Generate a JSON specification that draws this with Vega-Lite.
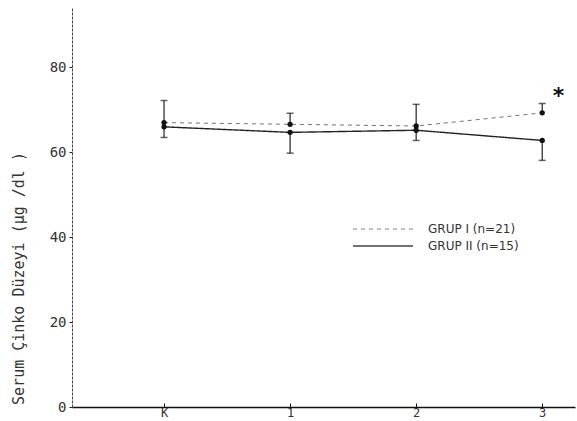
{
  "$schema": "https://vega.github.io/schema/vega-lite/v6.json",
  "width": 503,
  "height": 399,
  "autosize": {"type": "none"},
  "padding": {"left": 72, "top": 8, "right": 2, "bottom": 14},
  "background": "white",
  "config": {
    "view": {"stroke": null},
    "font": "DejaVu Sans",
    "axis": {"grid": false}
  },
  "datasets": {
    "pts": [
      {"group": "GRUP I (n=21)", "time": 0, "mean": 67.0, "err": 72.2},
      {"group": "GRUP I (n=21)", "time": 1, "mean": 66.6, "err": 69.2},
      {"group": "GRUP I (n=21)", "time": 2, "mean": 66.2, "err": 71.3},
      {"group": "GRUP I (n=21)", "time": 3, "mean": 69.3, "err": 71.5},
      {"group": "GRUP II (n=15)", "time": 0, "mean": 66.0, "err": 63.5},
      {"group": "GRUP II (n=15)", "time": 1, "mean": 64.7, "err": 59.8},
      {"group": "GRUP II (n=15)", "time": 2, "mean": 65.2, "err": 62.8},
      {"group": "GRUP II (n=15)", "time": 3, "mean": 62.8, "err": 58.1}
    ],
    "star": [{"time": 3.13, "val": 73.2, "label": "*"}]
  },
  "layer": [
    {
      "data": {"name": "pts"},
      "mark": {"type": "line", "color": "#222"},
      "encoding": {
        "x": {
          "field": "time", "type": "quantitative",
          "scale": {"domain": [-0.73, 3.26], "nice": false, "zero": false},
          "axis": {
            "title": null, "values": [0, 1, 2, 3], "format": "d",
            "labelExpr": "datum.value == 0 ? 'K' : datum.label",
            "domainColor": "#111", "domainWidth": 1.3,
            "tickColor": "#111", "tickSize": -4,
            "labelFontSize": 12, "labelColor": "#333", "labelPadding": 4,
            "labelFont": "DejaVu Sans Mono"
          }
        },
        "y": {
          "field": "mean", "type": "quantitative",
          "scale": {"domain": [0, 94], "nice": false},
          "axis": {
            "title": "Serum  Çinko  Düzeyi  (µg /dl )",
            "values": [0, 20, 40, 60, 80],
            "titleFont": "DejaVu Sans Mono",
            "titleFontSize": 15, "titleFontWeight": "normal", "titleColor": "#333",
            "titleX": -54, "titleY": 270, "titleAngle": -90, "titleAlign": "center",
            "titleBaseline": "middle",
            "domainColor": "#444", "domainDash": [3, 1], "domainWidth": 1,
            "tickColor": "#222", "tickSize": 3,
            "labelFont": "DejaVu Sans Mono",
            "labelFontSize": 14, "labelColor": "#333", "labelPadding": 3
          }
        },
        "strokeDash": {
          "field": "group", "type": "nominal",
          "scale": {"domain": ["GRUP I (n=21)", "GRUP II (n=15)"], "range": [[4, 4], [1, 0]]},
          "legend": {
            "title": null, "orient": "none", "legendX": 280, "legendY": 214,
            "symbolType": "stroke", "symbolSize": 3600, "symbolStrokeColor": "#444",
            "symbolStrokeWidth": 1, "labelFontSize": 12, "labelColor": "#333",
            "labelFont": "DejaVu Sans", "labelOffset": 14,
            "clipHeight": 14, "rowPadding": 3
          }
        },
        "strokeWidth": {
          "field": "group", "type": "nominal",
          "scale": {"domain": ["GRUP I (n=21)", "GRUP II (n=15)"], "range": [0.9, 1.4]},
          "legend": null
        },
        "opacity": {
          "field": "group", "type": "nominal",
          "scale": {"domain": ["GRUP I (n=21)", "GRUP II (n=15)"], "range": [0.7, 1]},
          "legend": null
        }
      }
    },
    {
      "data": {"name": "pts"},
      "mark": {"type": "rule", "color": "#222", "strokeWidth": 1.2},
      "encoding": {
        "x": {"field": "time", "type": "quantitative"},
        "y": {"field": "mean", "type": "quantitative"},
        "y2": {"field": "err"}
      }
    },
    {
      "data": {"name": "pts"},
      "mark": {"type": "tick", "orient": "horizontal", "color": "#222", "size": 7, "thickness": 1.5},
      "encoding": {
        "x": {"field": "time", "type": "quantitative"},
        "y": {"field": "err", "type": "quantitative"}
      }
    },
    {
      "data": {"name": "pts"},
      "mark": {"type": "point", "filled": true, "color": "#111", "size": 28, "opacity": 1},
      "encoding": {
        "x": {"field": "time", "type": "quantitative"},
        "y": {"field": "mean", "type": "quantitative"}
      }
    },
    {
      "data": {"name": "star"},
      "mark": {"type": "text", "fontSize": 22, "fontWeight": "bold", "color": "#111", "baseline": "middle"},
      "encoding": {
        "x": {"field": "time", "type": "quantitative"},
        "y": {"field": "val", "type": "quantitative"},
        "text": {"field": "label"}
      }
    }
  ]
}
